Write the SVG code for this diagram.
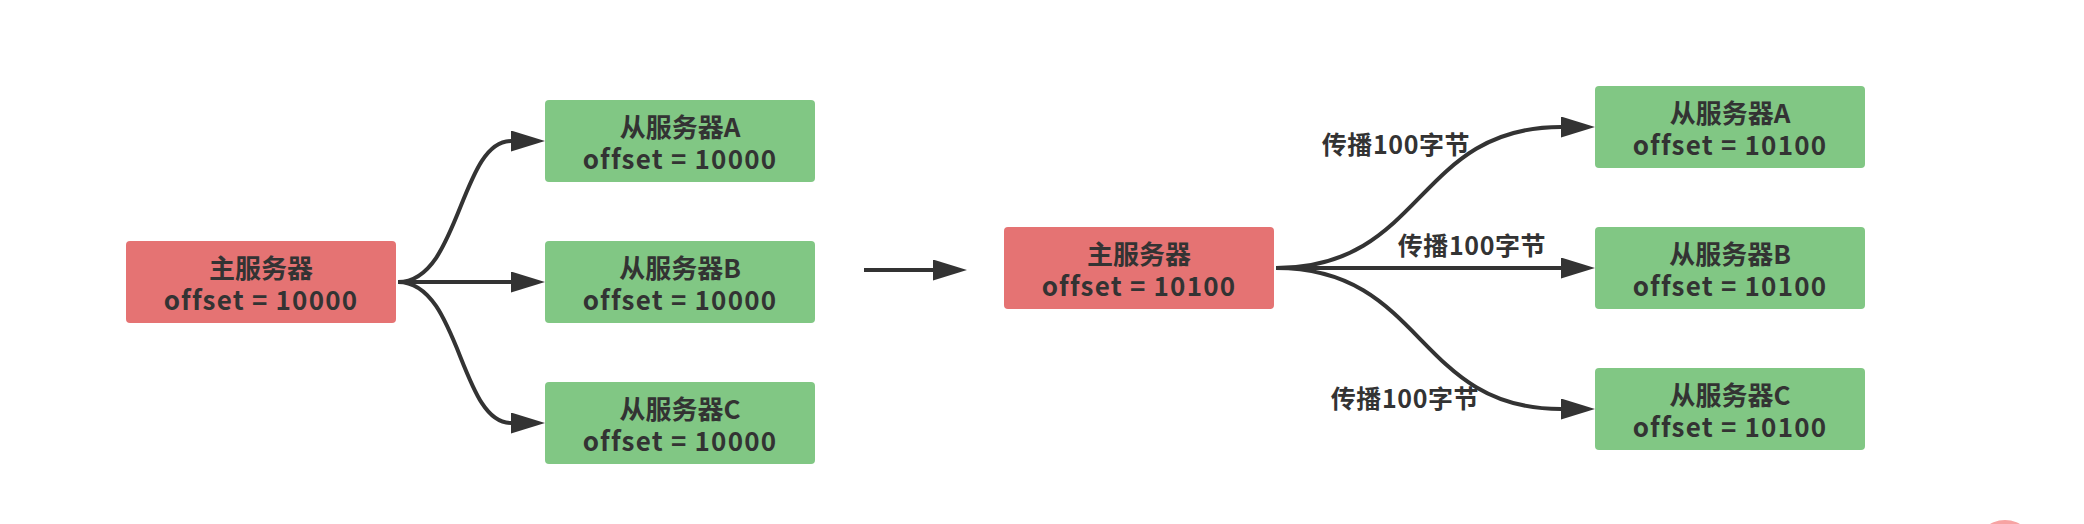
<svg xmlns="http://www.w3.org/2000/svg" width="2084" height="524" viewBox="0 0 2084 524">
<style>
.bg{fill:#ffffff}
.master{fill:#e57373}
.slave{fill:#81c784}
.t{font-family:"Microsoft YaHei","Noto Sans CJK SC",sans-serif;font-weight:bold;font-size:26px;fill:#333333;text-anchor:middle}
.o{letter-spacing:1.2px}
.lbl{font-family:"Microsoft YaHei","Noto Sans CJK SC",sans-serif;font-weight:bold;font-size:25px;fill:#333333;text-anchor:middle;letter-spacing:0.6px}
.edge{fill:none;stroke:#333333;stroke-width:4;marker-end:url(#arr)}
</style>
<defs>
<marker id="arr" viewBox="0 0 34 21" markerWidth="34" markerHeight="21" refX="0" refY="10.5" orient="auto" markerUnits="userSpaceOnUse">
<path d="M0,0 L34,10.5 L0,21 Z" fill="#333333"/>
</marker>
</defs>
<rect class="bg" x="0" y="0" width="2084" height="524"/>

<g id="connectors">
<path class="edge" d="M398,282 C460,282 460,141 511,141"/>
<path class="edge" d="M398,282 L511,282"/>
<path class="edge" d="M398,282 C460,282 460,423 511,423"/>
<path class="edge" d="M864,270 L933,270"/>
<path class="edge" d="M1276,268 C1425,268 1415,127 1561,127"/>
<path class="edge" d="M1276,268 L1561,268"/>
<path class="edge" d="M1276,268 C1425,268 1415,409 1561,409"/>
<text class="lbl" x="1396" y="154">传播100字节</text>
<text class="lbl" x="1472" y="255">传播100字节</text>
<text class="lbl" x="1405" y="408">传播100字节</text>
</g>

<g id="master1">
<rect class="master" x="126" y="241" width="270" height="82" rx="4"/>
<text class="t"><tspan x="261" y="278">主服务器</tspan><tspan class="o" x="261" y="310">offset = 10000</tspan></text>
</g>
<g id="slaveA1">
<rect class="slave" x="545" y="100" width="270" height="82" rx="4"/>
<text class="t"><tspan x="680" y="137">从服务器A</tspan><tspan class="o" x="680" y="169">offset = 10000</tspan></text>
</g>
<g id="slaveB1">
<rect class="slave" x="545" y="241" width="270" height="82" rx="4"/>
<text class="t"><tspan x="680" y="278">从服务器B</tspan><tspan class="o" x="680" y="310">offset = 10000</tspan></text>
</g>
<g id="slaveC1">
<rect class="slave" x="545" y="382" width="270" height="82" rx="4"/>
<text class="t"><tspan x="680" y="419">从服务器C</tspan><tspan class="o" x="680" y="451">offset = 10000</tspan></text>
</g>

<g id="master2">
<rect class="master" x="1004" y="227" width="270" height="82" rx="4"/>
<text class="t"><tspan x="1139" y="264">主服务器</tspan><tspan class="o" x="1139" y="296">offset = 10100</tspan></text>
</g>
<g id="slaveA2">
<rect class="slave" x="1595" y="86" width="270" height="82" rx="4"/>
<text class="t"><tspan x="1730" y="123">从服务器A</tspan><tspan class="o" x="1730" y="155">offset = 10100</tspan></text>
</g>
<g id="slaveB2">
<rect class="slave" x="1595" y="227" width="270" height="82" rx="4"/>
<text class="t"><tspan x="1730" y="264">从服务器B</tspan><tspan class="o" x="1730" y="296">offset = 10100</tspan></text>
</g>
<g id="slaveC2">
<rect class="slave" x="1595" y="368" width="270" height="82" rx="4"/>
<text class="t"><tspan x="1730" y="405">从服务器C</tspan><tspan class="o" x="1730" y="437">offset = 10100</tspan></text>
</g>

<circle cx="2005" cy="550" r="30" fill="#f7a3a3"/>
</svg>
